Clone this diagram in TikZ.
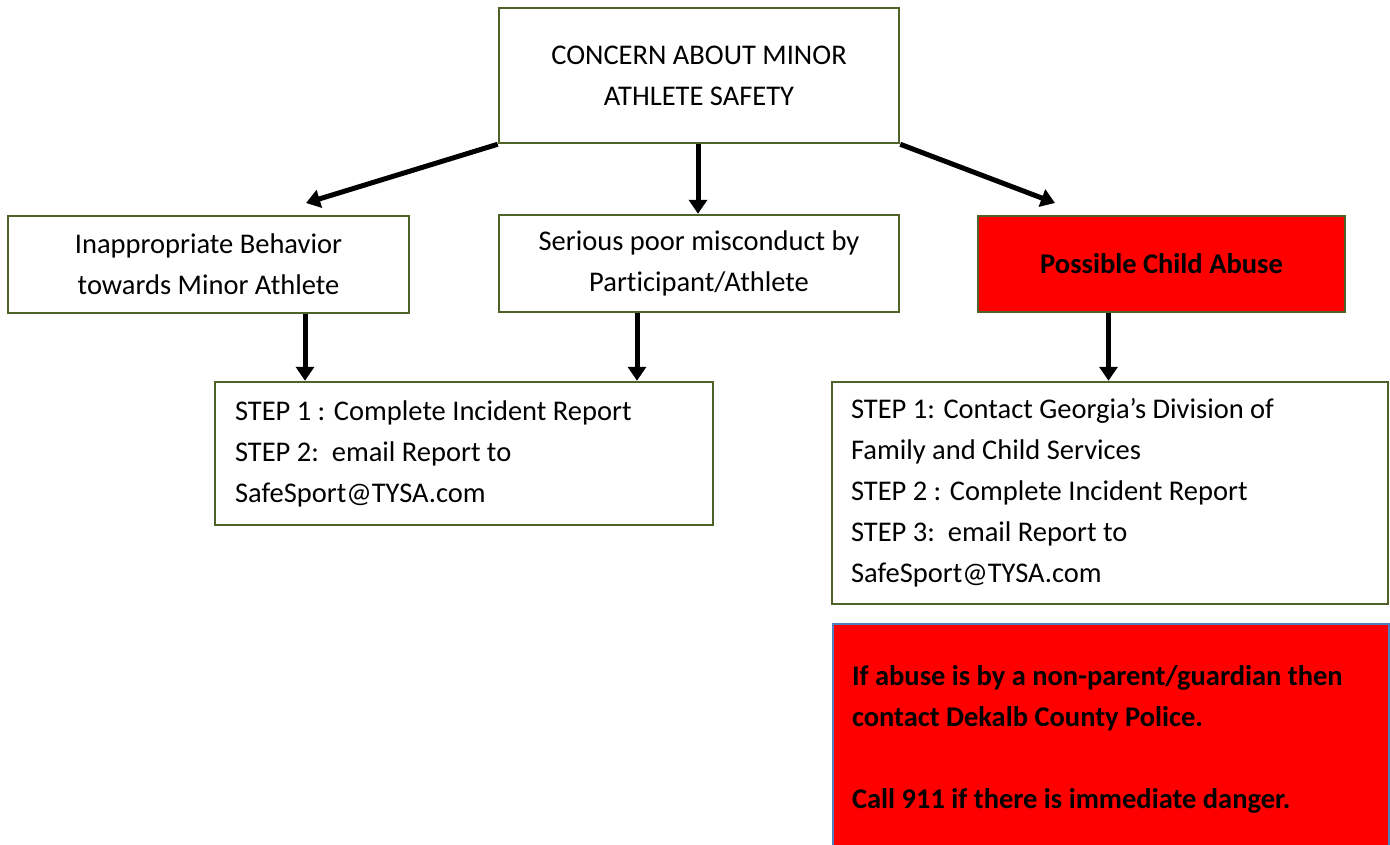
\documentclass[tikz,border=0pt]{standalone}
\usepackage{fontspec}
\setmainfont{Carlito}[Ligatures=NoCommon]
\usetikzlibrary{arrows.meta,calc}
\definecolor{olivebd}{RGB}{79,98,40}
\definecolor{bluebd}{RGB}{79,129,189}
\begin{document}
\begin{tikzpicture}[x=1pt,y=-1pt,
  every node/.style={font=\fontsize{28.5}{41}\selectfont},
  box/.style={draw=olivebd,line width=2.5pt,fill=white,inner ysep=0pt},
  redbox/.style={box,fill=red},
  arr/.style={line width=5pt,-{Triangle[width=18pt,length=14pt]}}]
\useasboundingbox (0,0) rectangle (1390,844);
\clip (0,0) rectangle (1390,844);
\node[box,align=center,inner xsep=0pt,minimum width=400pt,minimum height=135pt] (top) at (699,75.5) {CONCERN ABOUT MINOR\\ATHLETE SAFETY};
\node[box,align=center,inner xsep=0pt,minimum width=401pt,minimum height=97pt] (left) at (208.5,264.5) {Inappropriate Behavior\\towards Minor Athlete};
\node[box,align=center,inner xsep=0pt,minimum width=400pt,minimum height=97pt] (mid) at (699,263.5) {Serious poor misconduct by\\Participant/Athlete};
\node[redbox,align=center,inner xsep=0pt,minimum width=367pt,minimum height=96pt] (abuse) at (1161.5,264) {\bfseries Possible Child Abuse};
\node[box,align=flush left,inner xsep=20pt,text width=458pt,minimum height=143pt] (steps) at (464,453.5) {STEP 1 : Complete Incident Report\\STEP 2:\ \ email Report to\\SafeSport@TYSA.com};
\node[box,align=flush left,inner xsep=19pt,text width=518pt,minimum height=222pt] (rsteps) at (1110,493) {STEP 1: Contact Georgia’s Division of\\Family and Child Services\\STEP 2 : Complete Incident Report\\STEP 3:\ \ email Report to\\SafeSport@TYSA.com};
\node[draw=bluebd,line width=2pt,fill=red,align=flush left,inner xsep=19pt,inner ysep=0pt,text width=518pt,minimum height=230pt,anchor=north west] (police) at (832,623) {\bfseries If abuse is by a non-parent/guardian then\\\bfseries contact Dekalb County Police.\\[41pt]\bfseries Call 911 if there is immediate danger.};
\coordinate (la) at (306,203);
\coordinate (ra) at (1055,203);
\draw[arr] (top.south west) -- (la);
\draw[arr] ([xshift=-1pt]top.south) -- ([xshift=-1pt]top.south |- mid.north);
\draw[arr] (top.south east) -- (ra);
\draw[arr] ([xshift=96.5pt]left.south) -- ([xshift=96.5pt]left.south |- steps.north);
\draw[arr] ([xshift=-62pt]mid.south) -- ([xshift=-62pt]mid.south |- steps.north);
\draw[arr] ([xshift=-53pt]abuse.south) -- ([xshift=-53pt]abuse.south |- rsteps.north);
\end{tikzpicture}
\end{document}
